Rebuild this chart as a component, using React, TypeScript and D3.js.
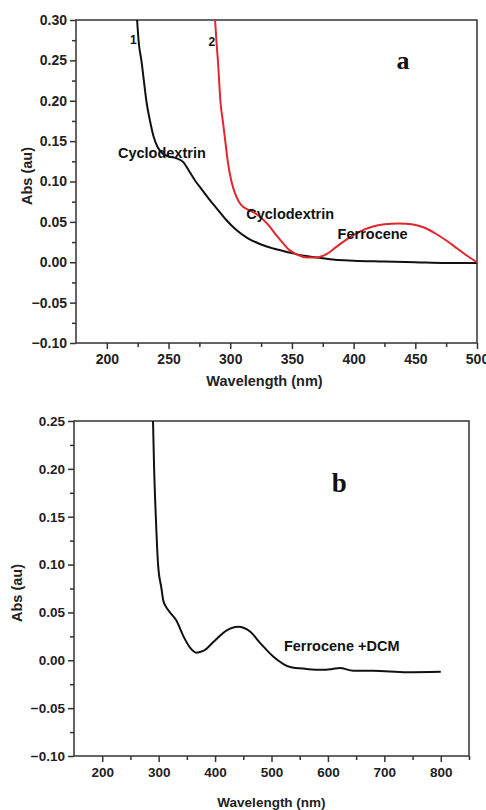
import React, { useEffect, useRef } from 'react';
import * as d3 from 'd3';

// panel a, curve 1 (cyclodextrin)
const wlA1 = [224.5, 226, 228, 230, 232, 235, 238, 241, 245, 250, 256, 262, 267, 272, 277, 283, 290, 297, 305, 314, 325, 335, 348, 360, 370, 385, 400, 425, 450, 475, 500];
const absA1 = [0.30, 0.27, 0.25, 0.225, 0.20, 0.175, 0.155, 0.143, 0.135, 0.131, 0.129, 0.124, 0.112, 0.100, 0.090, 0.078, 0.065, 0.052, 0.040, 0.030, 0.022, 0.017, 0.012, 0.008, 0.006, 0.003, 0.002, 0.001, 0.000, -0.001, -0.001];

// panel a, curve 2 (cyclodextrin + ferrocene)
const wlA2 = [287.7, 289, 290, 291, 292, 294, 296, 298, 301, 304, 307, 311, 316, 321, 326, 331, 336, 342, 348, 355, 362, 370, 378, 386, 395, 405, 415, 425, 437, 447, 457, 467, 476, 484, 492, 500];
const absA2 = [0.30, 0.27, 0.25, 0.225, 0.20, 0.175, 0.15, 0.125, 0.10, 0.085, 0.075, 0.068, 0.064, 0.060, 0.054, 0.046, 0.036, 0.025, 0.015, 0.009, 0.006, 0.006, 0.010, 0.019, 0.029, 0.038, 0.044, 0.047, 0.048, 0.047, 0.043, 0.035, 0.026, 0.017, 0.008, 0.000];

// panel b, ferrocene + DCM
const wlB = [290, 292, 295, 299, 305, 308, 314, 320, 331, 344, 356, 367, 380, 397, 420, 441, 462, 480, 503, 533, 562, 592, 608, 621, 645, 680, 740, 800];
const absB = [0.25, 0.20, 0.15, 0.10, 0.075, 0.063, 0.055, 0.050, 0.042, 0.025, 0.013, 0.008, 0.010, 0.019, 0.031, 0.035, 0.030, 0.018, 0.004, -0.007, -0.009, -0.010, -0.009, -0.008, -0.011, -0.011, -0.0125, -0.012];

const xTicksA = [200, 250, 300, 350, 400, 450, 500];
const xMinorA = [225, 275, 325, 375, 425, 475];
const yTicksA = [-0.10, -0.05, 0.00, 0.05, 0.10, 0.15, 0.20, 0.25, 0.30];
const yMinorA = [-0.075, -0.025, 0.025, 0.075, 0.125, 0.175, 0.225, 0.275];

const xTicksB = [200, 300, 400, 500, 600, 700, 800];
const xMinorB = [250, 350, 450, 550, 650, 750, 850];
const yTicksB = [-0.10, -0.05, 0.00, 0.05, 0.10, 0.15, 0.20, 0.25];
const yMinorB = [-0.075, -0.025, 0.025, 0.075, 0.125, 0.175, 0.225];

const SANS = '"Liberation Sans", Arial, sans-serif';
const SERIF = '"Liberation Serif", "Times New Roman", serif';
const AXIS = '#333';

function drawPanel(svg, p) {
  const x = d3.scaleLinear().domain(p.xDomain).range([p.left, p.right]);
  const y = d3.scaleLinear().domain(p.yDomain).range([p.bottom, p.top]);

  // minor ticks first
  svg.append('g')
    .attr('transform', 'translate(0,' + p.bottom + ')')
    .call(d3.axisBottom(x).tickValues(p.xMinor).tickSize(4).tickSizeOuter(0).tickFormat(() => ''))
    .call(g => g.select('.domain').remove());
  svg.append('g')
    .attr('transform', 'translate(' + p.left + ',0)')
    .call(d3.axisLeft(y).tickValues(p.yMinor).tickSize(4).tickSizeOuter(0).tickFormat(() => ''))
    .call(g => g.select('.domain').remove());

  const xa = svg.append('g')
    .attr('transform', 'translate(0,' + p.bottom + ')')
    .call(d3.axisBottom(x).tickValues(p.xTicks).tickSize(6).tickPadding(5).tickSizeOuter(0).tickFormat(d3.format('d')));
  const ya = svg.append('g')
    .attr('transform', 'translate(' + p.left + ',0)')
    .call(d3.axisLeft(y).tickValues(p.yTicks).tickSize(6).tickPadding(3).tickSizeOuter(0).tickFormat(d3.format('.2f')));

  [xa, ya].forEach(a => {
    a.select('.domain').remove();
    a.selectAll('text')
      .attr('fill', '#222')
      .style('font-family', SANS)
      .style('font-weight', 'bold')
      .style('font-size', p.tickSize);
  });
  svg.selectAll('g.tick line').attr('stroke', AXIS).attr('stroke-width', 1.5);

  // frame
  svg.append('rect')
    .attr('x', p.left).attr('y', p.top)
    .attr('width', p.right - p.left).attr('height', p.bottom - p.top)
    .attr('fill', 'none').attr('stroke', AXIS).attr('stroke-width', 1.5);

  const clipId = 'clip-' + p.name;
  svg.append('clipPath').attr('id', clipId)
    .append('rect')
    .attr('x', p.left).attr('y', p.top - 1)
    .attr('width', p.right - p.left + 1).attr('height', p.bottom - p.top + 1);

  const line = d3.line().x(d => x(d[0])).y(d => y(d[1])).curve(d3.curveMonotoneX);
  p.series.forEach(s => {
    const pts = s.wl.map((w, i) => [w, s.abs[i]]);
    svg.append('path')
      .datum(pts)
      .attr('clip-path', 'url(#' + clipId + ')')
      .attr('d', line)
      .attr('fill', 'none')
      .attr('stroke', s.color)
      .attr('stroke-width', 2)
      .attr('stroke-linejoin', 'round');
  });

  // axis titles
  svg.append('text')
    .attr('x', (p.left + p.right) / 2 + p.xTitleDx)
    .attr('y', p.xTitleY)
    .attr('text-anchor', 'middle')
    .attr('dominant-baseline', 'central')
    .attr('fill', '#222')
    .style('font-family', SANS).style('font-weight', 'bold').style('font-size', p.titleSize)
    .text('Wavelength (nm)');
  svg.append('text')
    .attr('transform', 'translate(' + p.yTitleX + ',' + p.yTitleY + ') rotate(-90)')
    .attr('text-anchor', 'middle')
    .attr('dominant-baseline', 'central')
    .attr('fill', '#222')
    .style('font-family', SANS).style('font-weight', 'bold').style('font-size', '14.5px')
    .text('Abs (au)');

  // annotations, placed in data coordinates
  p.notes.forEach(n => {
    svg.append('text')
      .attr('x', x(n.wl)).attr('y', y(n.abs))
      .attr('text-anchor', n.anchor || 'start')
      .attr('dominant-baseline', 'central')
      .attr('fill', '#111')
      .style('font-family', n.serif ? SERIF : SANS)
      .style('font-weight', 'bold')
      .style('font-size', n.size)
      .text(n.text);
  });
}

export default function App() {
  const ref = useRef(null);

  useEffect(() => {
    const svg = d3.select(ref.current);
    svg.selectAll('*').remove();

    drawPanel(svg, {
      name: 'a',
      xDomain: [175, 500], yDomain: [-0.10, 0.30],
      left: 76, right: 477, top: 20, bottom: 343,
      xTicks: xTicksA, xMinor: xMinorA, yTicks: yTicksA, yMinor: yMinorA,
      tickSize: '14px',
      series: [
        { wl: wlA1, abs: absA1, color: '#111' },
        { wl: wlA2, abs: absA2, color: '#e3262d' },
      ],
      xTitleY: 381, xTitleDx: -12, titleSize: '14.5px',
      yTitleX: 27, yTitleY: 176,
      notes: [
        { text: '1', wl: 221.5, abs: 0.275, size: '12px', anchor: 'middle' },
        { text: '2', wl: 285, abs: 0.273, size: '12px', anchor: 'middle' },
        { text: 'a', wl: 440, abs: 0.25, size: '26px', anchor: 'middle', serif: true },
        { text: 'Cyclodextrin', wl: 209, abs: 0.135, size: '14.5px' },
        { text: 'Cyclodextrin', wl: 313, abs: 0.060, size: '14.5px' },
        { text: 'Ferrocene', wl: 387, abs: 0.035, size: '14.5px' },
      ],
    });

    drawPanel(svg, {
      name: 'b',
      xDomain: [150, 850], yDomain: [-0.10, 0.25],
      left: 74, right: 469, top: 421, bottom: 756,
      xTicks: xTicksB, xMinor: xMinorB, yTicks: yTicksB, yMinor: yMinorB,
      tickSize: '13.5px',
      series: [{ wl: wlB, abs: absB, color: '#111' }],
      xTitleY: 802, xTitleDx: 0, titleSize: '13.5px',
      yTitleX: 17, yTitleY: 593,
      notes: [
        { text: 'b', wl: 620, abs: 0.185, size: '27px', anchor: 'middle', serif: true },
        { text: 'Ferrocene +DCM', wl: 522, abs: 0.0145, size: '14.5px' },
      ],
    });
  }, []);

  return (
    <svg
      ref={ref}
      width={486}
      height={810}
      style={{ position: 'absolute', left: 0, top: 0, background: '#fff', display: 'block' }}
    />
  );
}
